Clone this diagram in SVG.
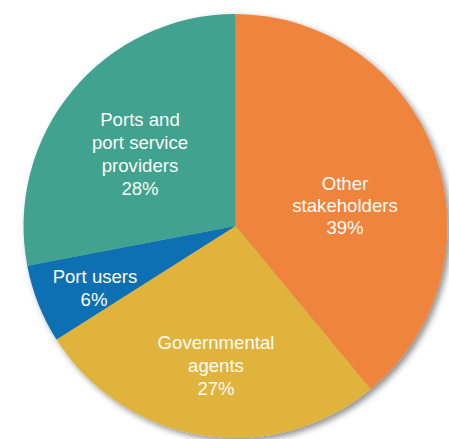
<svg xmlns="http://www.w3.org/2000/svg" width="449" height="439" viewBox="0 0 449 439">
<style>
.lbl{font-family:"Liberation Sans",Arial,sans-serif;font-size:18.6px;fill:#fbfbf8;text-anchor:middle}
</style>
<defs>
<filter id="sh" x="-10%" y="-10%" width="120%" height="120%">
<feDropShadow dx="3" dy="3" stdDeviation="3" flood-color="#000" flood-opacity="0.45"/>
</filter>
</defs>
<rect width="449" height="439" fill="#ffffff"/>
<g filter="url(#sh)">
<g id="other">
<path d="M235.5,226 L235.5,14 A212,212 0 0 1 370.6,389.3 Z" fill="#ef843c"/>
</g>
<g id="governmental">
<path d="M235.5,226 L370.6,389.3 A212,212 0 0 1 56.5,339.6 Z" fill="#e0b33e"/>
</g>
<g id="portusers">
<path d="M235.5,226 L56.5,339.6 A212,212 0 0 1 27.3,265.7 Z" fill="#0c70b3"/>
</g>
<g id="ports">
<path d="M235.5,226 L27.3,265.7 A212,212 0 0 1 235.5,14 Z" fill="#41a28f"/>
</g>
</g>
<g id="labels">
<text class="lbl" x="140" y="126">Ports and</text>
<text class="lbl" x="140" y="149">port service</text>
<text class="lbl" x="140" y="172">providers</text>
<text class="lbl" x="140" y="195">28%</text>
<text class="lbl" x="345" y="190">Other</text>
<text class="lbl" x="345" y="212">stakeholders</text>
<text class="lbl" x="345" y="234">39%</text>
<text class="lbl" x="95" y="283">Port users</text>
<text class="lbl" x="94" y="306">6%</text>
<text class="lbl" x="216" y="349">Governmental</text>
<text class="lbl" x="216" y="372">agents</text>
<text class="lbl" x="216" y="395">27%</text>
</g>
</svg>
